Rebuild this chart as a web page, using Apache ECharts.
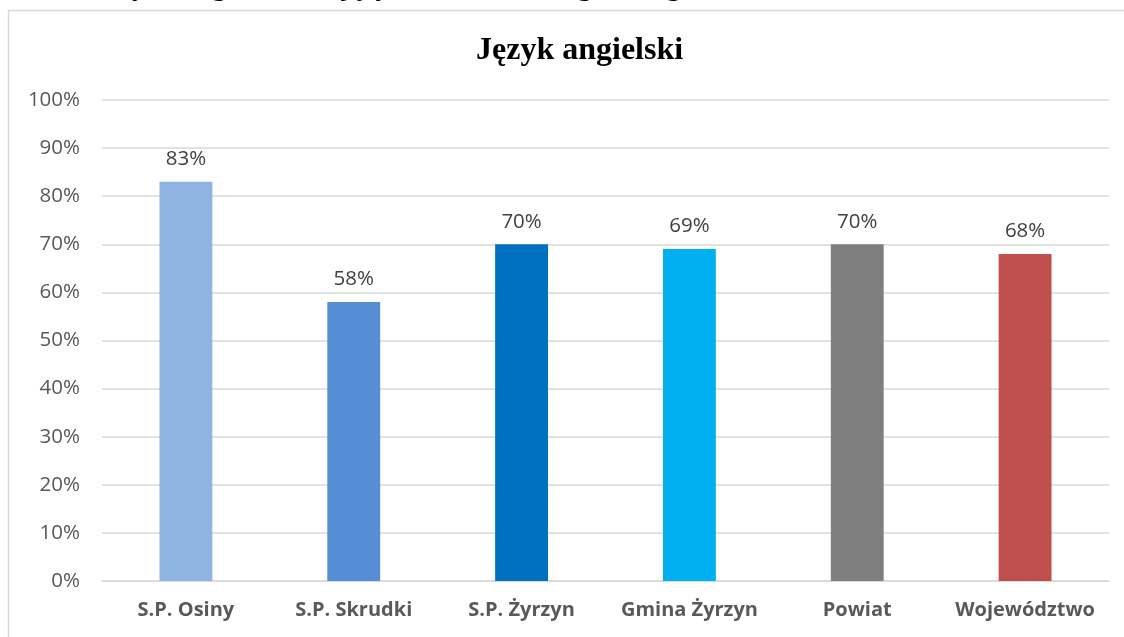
<!DOCTYPE html>
<html>
<head>
<meta charset="utf-8">
<script src="https://cdn.jsdelivr.net/npm/echarts@6/dist/echarts.min.js"></script>
<style>
  html, body { margin: 0; padding: 0; background: #fff; }
  #main { width: 1124px; height: 637px; }
</style>
</head>
<body>
<div id="main"></div>
<script>
// dane wykresu
var categories = ['S.P. Osiny', 'S.P. Skrudki', 'S.P. Żyrzyn', 'Gmina Żyrzyn', 'Powiat', 'Województwo'];
var values = [83, 58, 70, 69, 70, 68];
var barColors = ['#8EB4E3', '#558ED5', '#0070C0', '#00B0F0', '#7F7F7F', '#C0504D'];
var yTicks = [0, 10, 20, 30, 40, 50, 60, 70, 80, 90, 100];

var myChart = echarts.init(document.getElementById('main'));

var option = {
	backgroundColor: '#fff',
	animation: false,
	title: {
		text: 'Język angielski',
		left: 471,
		top: 30,
		textStyle: {
			fontFamily: 'Liberation Serif',
			fontWeight: 'bold',
			fontSize: 32,
			color: '#000'
		}
	},
	graphic: [
		// obramowanie ramki wykresu
		{
			type: 'rect',
			shape: { x: 8.5, y: 10.5, width: 1130, height: 640 },
			style: { fill: 'none', stroke: '#d9d9d9', lineWidth: 1.5 },
			silent: true
		},
		// ucięty nagłówek dokumentu nad wykresem
		{
			type: 'text',
			left: 105,
			top: -26,
			style: {
				text: 'Wyniki egzaminu z języka',
				font: 'bold 28px "Liberation Serif"',
				fill: '#000'
			}
		},
		{
			type: 'text',
			left: 548,
			top: -26,
			style: {
				text: 'angielskiego',
				font: 'bold 28px "Liberation Serif"',
				fill: '#000'
			}
		}
	],
	grid: {
		left: 102,
		right: 15,
		top: 100,
		bottom: 56,
		containLabel: false
	},
	xAxis: {
		type: 'category',
		data: categories,
		axisTick: { show: false },
		axisLine: { lineStyle: { color: '#d9d9d9', width: 1.5 } },
		axisLabel: {
			interval: 0,
			hideOverlap: false,
			margin: 19,
			fontFamily: 'Open Sans',
			fontWeight: 'bold',
			fontSize: 20,
			color: '#595959'
		}
	},
	yAxis: {
		type: 'value',
		min: yTicks[0],
		max: yTicks[yTicks.length - 1],
		interval: 10,
		axisLine: { show: false },
		axisTick: { show: false },
		splitLine: { lineStyle: { color: '#d9d9d9', width: 1.5 } },
		axisLabel: {
			margin: 22,
			fontFamily: 'Open Sans',
			fontSize: 20.5,
			color: '#595959',
			formatter: '{value}%'
		}
	},
	series: [
		{
			name: 'Język angielski',
			type: 'bar',
			barWidth: '31.5%',
			data: values.map(function(v, i) {
				return { value: v, itemStyle: { color: barColors[i] } };
			}),
			label: {
				show: true,
				position: 'top',
				distance: 12,
				fontFamily: 'Open Sans',
				fontSize: 20.5,
				color: '#404040',
				formatter: '{c}%'
			}
		}
	]
};

myChart.setOption(option);
</script>
</body>
</html>
